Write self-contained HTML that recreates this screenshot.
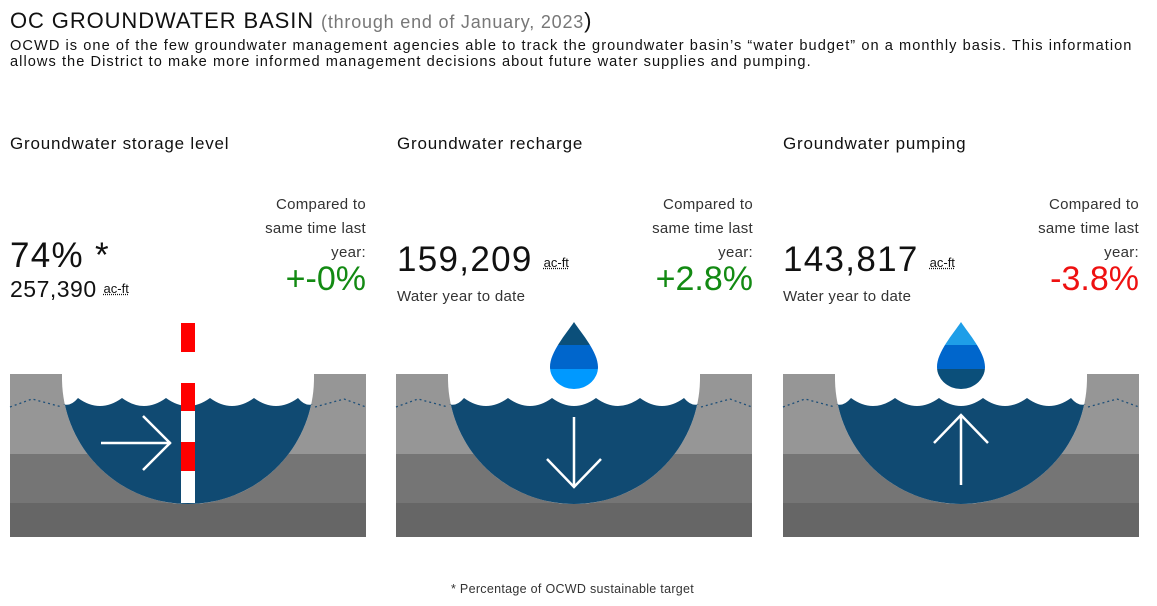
<!DOCTYPE html>
<html><head><meta charset="utf-8">
<style>
body{margin:0;width:1157px;height:606px;background:#fff;font-family:"Liberation Sans",sans-serif;color:#111;position:relative;overflow:hidden}
.a{position:absolute;white-space:nowrap}
.cmp{text-align:right;font-size:15px;line-height:24px;color:#333;letter-spacing:0.3px}
.unit{font-size:13px;text-decoration:underline dotted;vertical-align:4px;letter-spacing:0}
.h{font-size:17px;letter-spacing:0.8px}
.big{font-size:35px;letter-spacing:1.3px}
</style></head><body>
<div class="a" style="left:10px;top:8px;font-size:22px;letter-spacing:0.9px">OC GROUNDWATER BASIN <span style="color:#777;font-size:18px;letter-spacing:0.8px">(through end of January, 2023</span>)</div>
<div class="a" style="left:10px;top:38px;font-size:14.6px;line-height:16px;white-space:normal;width:1140px;letter-spacing:1.05px">OCWD is one of the few groundwater management agencies able to track the groundwater basin’s “water budget” on a monthly basis. This information allows the District to make more informed management decisions about future water supplies and pumping.</div>

<div class="a h" style="left:10px;top:134px">Groundwater storage level</div>
<div class="a h" style="left:397px;top:134px">Groundwater recharge</div>
<div class="a h" style="left:783px;top:134px">Groundwater pumping</div>

<div class="a cmp" style="right:791px;top:193px">Compared to<br>same time last<br>year:</div>
<div class="a cmp" style="right:404px;top:193px">Compared to<br>same time last<br>year:</div>
<div class="a cmp" style="right:18px;top:193px">Compared to<br>same time last<br>year:</div>

<div class="a" style="right:791px;top:260px;font-size:34px;color:#138a13">+-0%</div>
<div class="a" style="right:404px;top:260px;font-size:34px;color:#138a13">+2.8%</div>
<div class="a" style="right:18px;top:260px;font-size:34px;color:#ee1111">-3.8%</div>

<div class="a big" style="left:10px;top:236px">74% *</div>
<div class="a" style="left:10px;top:276px;font-size:23px;letter-spacing:0.5px">257,390 <span class="unit">ac-ft</span></div>
<div class="a big" style="left:397px;top:240px">159,209 <span class="unit">ac-ft</span></div>
<div class="a" style="left:397px;top:288px;font-size:15px;color:#333;letter-spacing:0.3px">Water year to date</div>
<div class="a big" style="left:783px;top:240px">143,817 <span class="unit">ac-ft</span></div>
<div class="a" style="left:783px;top:288px;font-size:15px;color:#333;letter-spacing:0.3px">Water year to date</div>

<div class="a" style="left:451px;top:582px;font-size:12.5px;color:#333;letter-spacing:0.3px">* Percentage of OCWD sustainable target</div>

<svg id="s" width="1157" height="606" style="position:absolute;left:0;top:0;pointer-events:none"></svg>
<script>
const panelNames=["storage","recharge","pumping"];
const panelX=[10,396,783];
const NS="http://www.w3.org/2000/svg";
const svg=document.getElementById('s');
function mk(tag,attrs,name){const e=document.createElementNS(NS,tag);for(const k in attrs)e.setAttribute(k,attrs[k]);


svg.appendChild(e);return e;}
panelNames.forEach((p,i)=>{
  const x=panelX[i],cx=x+178,cy=378,r=126;
  mk('rect',{x:x,y:374,width:356,height:80,fill:'#969696'},p+'-top-layer');
  mk('rect',{x:x,y:454,width:356,height:49,fill:'#757575'},p+'-mid-layer');
  mk('rect',{x:x,y:503,width:356,height:34,fill:'#666'},p+'-bottom-layer');
  let d='M'+x+' 407 L'+(x+22)+' 399 L'+(x+52)+' 407';
  mk('path',{d:d,stroke:'#1e4f78',fill:'none','stroke-dasharray':'2 3','stroke-width':1.3},p+'-water-table-left');
  d='M'+(x+305)+' 407 L'+(x+334)+' 399 L'+(x+356)+' 407';
  mk('path',{d:d,stroke:'#1e4f78',fill:'none','stroke-dasharray':'2 3','stroke-width':1.3},p+'-water-table-right');
  mk('path',{d:`M${cx-r} 374 L${cx+r} 374 L${cx+r} ${cy} A${r} ${r} 0 0 1 ${cx-r} ${cy} Z`,fill:'#fff'},p+'-basin');
  const xs=[cx-125,cx-110,cx-66,cx-22,cx+22,cx+66,cx+110,cx+125];
  const ys=[404,398,398,398,398,398,398,404];
  let top=`M${xs[0]} ${ys[0]}`;
  for(let k=0;k<xs.length-1;k++){const last=(k==0||k==xs.length-2);top+=` Q${(xs[k]+xs[k+1])/2} ${last?407:414} ${xs[k+1]} ${ys[k+1]}`;}
  const hx=Math.sqrt(r*r-(404-cy)*(404-cy));
  mk('path',{d:`M${cx-hx} 404 L${xs[0]} 404`+top.slice(top.indexOf('Q')-1)+` L${cx+hx} 404 A${r} ${r} 0 0 1 ${cx-hx} 404 Z`,fill:'#104a72'},p+'-groundwater');
});
const gx=panelX[0]+171;
const seg=[[323,352,'#f00'],[383,411,'#f00'],[411,442,'#fff'],[442,471,'#f00'],[471,503,'#fff']];
seg.forEach((s,k)=>mk('rect',{x:gx,y:s[0],width:14,height:s[1]-s[0],fill:s[2]},'gauge-segment-'+k));
mk('path',{d:'M101 443 L171 443 M143 416 L170 443 L143 470',stroke:'#fff','stroke-width':2.5,fill:'none'},'storage-arrow');
function drop(cx,cols,name){
  const p=`M${cx} 322 C${cx+8} 334 ${cx+24} 352 ${cx+24} 367 A24 22 0 0 1 ${cx-24} 367 C${cx-24} 352 ${cx-8} 334 ${cx} 322 Z`;
  const cp=mk('clipPath',{id:name+'c'},name+'-clip');cp.innerHTML=`<path d="${p}"/>`;
  [[322,345],[345,369],[369,392]].forEach((b,k)=>mk('rect',{x:cx-25,y:b[0],width:50,height:b[1]-b[0],fill:cols[k],'clip-path':`url(#${name}c)`},name+'-band-'+k));
}
drop(574,['#0b4f7a','#0066cc','#0099ff'],'recharge-drop');
drop(961,['#1e9ee8','#0066cc','#0b4f7a'],'pumping-drop');
mk('path',{d:'M574 417 L574 487 M547 459 L574 487 L601 459',stroke:'#fff','stroke-width':2.5,fill:'none'},'recharge-arrow');
mk('path',{d:'M961 485 L961 415 M934 443 L961 415 L988 443',stroke:'#fff','stroke-width':2.5,fill:'none'},'pumping-arrow');
</script>
</body></html>
